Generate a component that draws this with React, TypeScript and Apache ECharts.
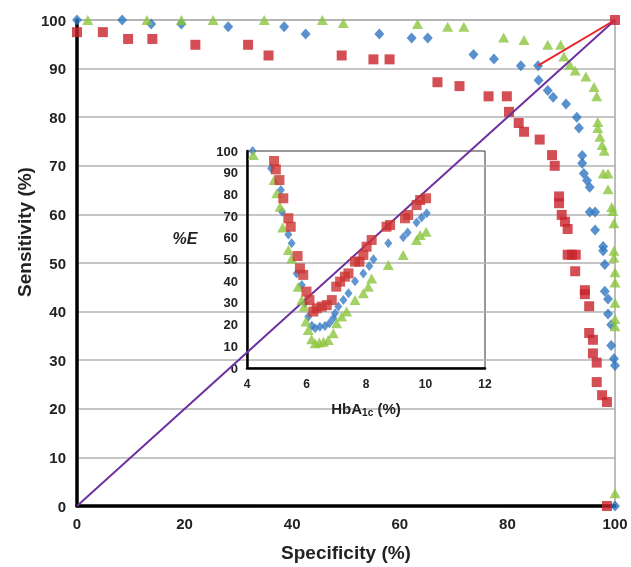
import React, { useEffect, useRef } from "react";
import * as echarts from "echarts";

// Main ROC chart: [specificity %, sensitivity %]
const mainBlue: number[][] = [
  [0, 100], [8.4, 100], [13.8, 99.2], [19.4, 99.2], [28.1, 98.6], [38.5, 98.6], [42.5, 97.1],
  [56.2, 97.1], [62.2, 96.3], [65.2, 96.3], [73.7, 92.9], [77.5, 92], [82.5, 90.6], [85.7, 90.6],
  [85.8, 87.6], [87.5, 85.5], [88.5, 84.1], [90.9, 82.7], [92.9, 80], [93.3, 77.8], [93.9, 72.1],
  [93.9, 70.5], [94.2, 68.4], [94.8, 67], [95.3, 65.6], [95.3, 60.5], [96.3, 60.5], [96.3, 56.8],
  [97.8, 53.4], [97.8, 52.5], [98.1, 49.7], [98.1, 44.2], [98.7, 42.6], [98.7, 39.5], [99.3, 37.3],
  [99.3, 33], [99.8, 30.3], [100, 28.9], [100, 0],
];
const mainRed: number[][] = [
  [0, 97.5], [4.8, 97.5], [9.5, 96.1], [14, 96.1], [22, 94.9], [31.8, 94.9], [35.6, 92.7],
  [49.2, 92.7], [55.1, 91.9], [58.1, 91.9], [67, 87.2], [71.1, 86.4], [76.5, 84.3], [79.9, 84.3],
  [80.3, 81.1], [82.1, 78.8], [83.1, 77], [86, 75.4], [88.3, 72.2], [88.8, 70], [89.6, 63.7],
  [89.6, 62.3], [90.1, 59.9], [90.7, 58.5], [91.2, 57], [91.2, 51.7], [92, 51.7], [92.7, 51.7],
  [92.6, 48.3], [94.4, 44.4], [94.4, 43.6], [95.2, 41.1], [95.2, 35.6], [95.9, 34.2], [95.9, 31.4],
  [96.6, 29.5], [96.6, 25.5], [97.6, 22.8], [98.5, 21.4], [98.5, 0], [100, 100],
];
const mainGreen: number[][] = [
  [2, 100], [13, 100], [19.4, 100], [25.3, 100], [34.8, 100], [45.6, 100], [49.5, 99.4],
  [63.3, 99.2], [68.9, 98.6], [71.9, 98.6], [79.3, 96.4], [83.1, 95.9], [87.5, 94.9], [89.9, 94.9],
  [90.5, 92.5], [91.6, 90.8], [92.6, 89.6], [94.6, 88.4], [96.1, 86.2], [96.6, 84.3], [96.8, 79],
  [96.8, 77.8], [97.2, 76], [97.6, 74.3], [98, 73.1], [97.8, 68.4], [98.7, 68.4], [98.7, 65.2],
  [99.4, 61.5], [99.6, 60.7], [99.8, 58.2], [99.8, 52.5], [99.8, 51.1], [100, 48.1], [100, 46],
  [100, 41.8], [100, 38.5], [100, 37], [100, 2.6],
];
const diagonalLine: number[][] = [[0, 0], [100, 100]];
const redLine: number[][] = [[85.7, 90.6], [100, 100]];

// Inset: [HbA1c %, %E]
const insetBlue: number[][] = [
  [4.19, 100], [4.81, 92], [5.14, 82], [5.18, 72], [5.39, 61.5], [5.5, 57.5], [5.67, 43.6],
  [5.84, 38.2], [5.95, 30], [6.06, 23.6], [6.18, 19.5], [6.29, 18.3], [6.45, 19], [6.62, 19.4],
  [6.77, 20.6], [6.9, 22.9], [6.96, 25.2], [7.07, 28.3], [7.24, 31.3], [7.41, 34.4], [7.63, 40],
  [7.91, 43.5], [8.11, 47], [8.25, 50.1], [8.75, 57.5], [9.25, 60.2], [9.4, 62.5], [9.7, 67],
  [9.87, 69.4], [10.04, 71.3],
];
const insetRed: number[][] = [
  [4.91, 95.4], [4.97, 91.5], [5.09, 86.6], [5.22, 78.2], [5.39, 69], [5.47, 65.1], [5.7, 51.6],
  [5.78, 45.9], [5.89, 42.9], [6.0, 35.2], [6.1, 31.3], [6.23, 26], [6.34, 27.5], [6.51, 28.3],
  [6.68, 29], [6.85, 31.3], [7.0, 37.5], [7.13, 39.8], [7.29, 42.1], [7.41, 43.6], [7.63, 49],
  [7.78, 49], [7.91, 52.1], [8.02, 55.9], [8.19, 59], [8.69, 65.1], [8.81, 65.9], [9.31, 69],
  [9.42, 70.5], [9.7, 75.1], [9.82, 77.4], [10.02, 78.2],
];
const insetGreen: number[][] = [
  [4.21, 98.2], [4.91, 86.6], [5.0, 80.5], [5.11, 74.3], [5.2, 64.8], [5.39, 54.4], [5.5, 50.5],
  [5.72, 37.5], [5.84, 31.3], [5.92, 28.3], [5.98, 21.4], [6.06, 17.5], [6.17, 13.2], [6.29, 11.4],
  [6.43, 11.7], [6.57, 12.1], [6.73, 12.9], [6.9, 16], [7.01, 20.6], [7.18, 23.7], [7.35, 26],
  [7.63, 31.3], [7.91, 34.4], [8.08, 37.5], [8.19, 41.3], [8.75, 47.5], [9.25, 52.1], [9.7, 59],
  [9.82, 61.3], [10.02, 62.8],
];

const mainXLabel = "Specificity (%)";
const mainYLabel = "Sensitivity (%)";
const insetYLabel = "%E";

const BLUE = "#2f75c2";
const RED = "#c9232b";
const GREEN = "#8dc63f";
const FONT = "Liberation Sans, Arial, sans-serif";

export default function App() {
  const ref = useRef<HTMLDivElement>(null);
  useEffect(() => {
    if (!ref.current) return;
    const chart = echarts.init(ref.current, undefined, { renderer: "svg" });
    const tickLabel = (size: number) => ({
      fontFamily: FONT,
      fontWeight: "bold" as const,
      fontSize: size,
      color: "#222",
    });
    chart.setOption({
      animation: false,
      textStyle: { fontFamily: FONT },
      grid: [
        { left: 77, top: 20, width: 538, height: 491, show: true, borderColor: "#a6a6a6", borderWidth: 1.5 },
        { left: 247, top: 151, width: 238, height: 217, show: true, borderColor: "#333", borderWidth: 1 },
      ],
      xAxis: [
        {
          gridIndex: 0, type: "value", min: 0, max: 100, interval: 20,
          axisLine: { show: true, onZero: false, lineStyle: { color: "#000", width: 3.5 } },
          axisTick: { show: false }, splitLine: { show: false },
          axisLabel: { ...tickLabel(15), margin: 10 },
          name: mainXLabel, nameLocation: "middle", nameGap: 37,
          nameTextStyle: { fontFamily: FONT, fontWeight: "bold", fontSize: 19, color: "#222" },
        },
        {
          gridIndex: 1, type: "value", min: 4, max: 12, interval: 2,
          axisLine: { show: true, onZero: false, lineStyle: { color: "#000", width: 2.5 } },
          axisTick: { show: false }, splitLine: { show: false },
          axisLabel: { ...tickLabel(12), margin: 10 },
          name: "{a|HbA}{b|1c}{a| (%)}", nameLocation: "middle", nameGap: 32,
          nameTextStyle: {
            rich: {
              a: { fontFamily: FONT, fontWeight: "bold", fontSize: 15, color: "#222" },
              b: { fontFamily: FONT, fontWeight: "bold", fontSize: 10, color: "#222", verticalAlign: "bottom", padding: [7, 0, 0, 0] },
            },
          },
        },
      ],
      yAxis: [
        {
          gridIndex: 0, type: "value", min: 0, max: 100, interval: 10,
          axisLine: { show: true, onZero: false, lineStyle: { color: "#000", width: 3.5 } },
          axisTick: { show: false },
          splitLine: { show: true, lineStyle: { color: "#b3b3b3", width: 1.5 } },
          axisLabel: { ...tickLabel(15), margin: 11 },
        },
        {
          gridIndex: 1, type: "value", min: 0, max: 100, interval: 10,
          axisLine: { show: true, onZero: false, lineStyle: { color: "#000", width: 2.5 } },
          axisTick: { show: false }, splitLine: { show: false },
          axisLabel: { ...tickLabel(13), margin: 9 },
        },
      ],
      graphic: [
        {
          type: "text", x: 24, y: 232, rotation: Math.PI / 2,
          style: { text: mainYLabel, fontFamily: FONT, fontWeight: "bold", fontSize: 19, fill: "#222", align: "center", verticalAlign: "middle" },
        },
        {
          type: "text", x: 185, y: 238,
          style: { text: insetYLabel, fontFamily: FONT, fontWeight: "bold", fontStyle: "italic", fontSize: 16, fill: "#222", align: "center", verticalAlign: "middle" },
        },
      ],
      series: [
        {
          type: "line", xAxisIndex: 0, yAxisIndex: 0, data: diagonalLine, symbol: "none",
          lineStyle: { color: "#7030a0", width: 2 }, z: 4, clip: false,
        },
        {
          type: "line", xAxisIndex: 0, yAxisIndex: 0, data: redLine, symbol: "none",
          lineStyle: { color: "#e8262b", width: 2 }, z: 4,
        },
        { type: "scatter", xAxisIndex: 0, yAxisIndex: 0, data: mainBlue, symbol: "diamond", symbolSize: [10, 11], itemStyle: { color: BLUE }, clip: false, z: 3 },
        { type: "scatter", xAxisIndex: 0, yAxisIndex: 0, data: mainRed, symbol: "rect", symbolSize: 10, itemStyle: { color: RED }, clip: false, z: 3 },
        { type: "scatter", xAxisIndex: 0, yAxisIndex: 0, data: mainGreen, symbol: "triangle", symbolSize: [11, 10], itemStyle: { color: GREEN }, clip: false, z: 3 },
        { type: "scatter", xAxisIndex: 1, yAxisIndex: 1, data: insetBlue, symbol: "diamond", symbolSize: [8, 10], itemStyle: { color: "#3a7cc6" }, clip: false, z: 5 },
        { type: "scatter", xAxisIndex: 1, yAxisIndex: 1, data: insetGreen, symbol: "triangle", symbolSize: [11, 10], itemStyle: { color: GREEN }, clip: false, z: 5 },
        { type: "scatter", xAxisIndex: 1, yAxisIndex: 1, data: insetRed, symbol: "rect", symbolSize: 10, itemStyle: { color: "#cc3333" }, clip: false, z: 5 },
      ],
    });
    return () => chart.dispose();
  }, []);
  return <div ref={ref} style={{ position: "fixed", left: 0, top: 0, width: 631, height: 567 }} />;
}
